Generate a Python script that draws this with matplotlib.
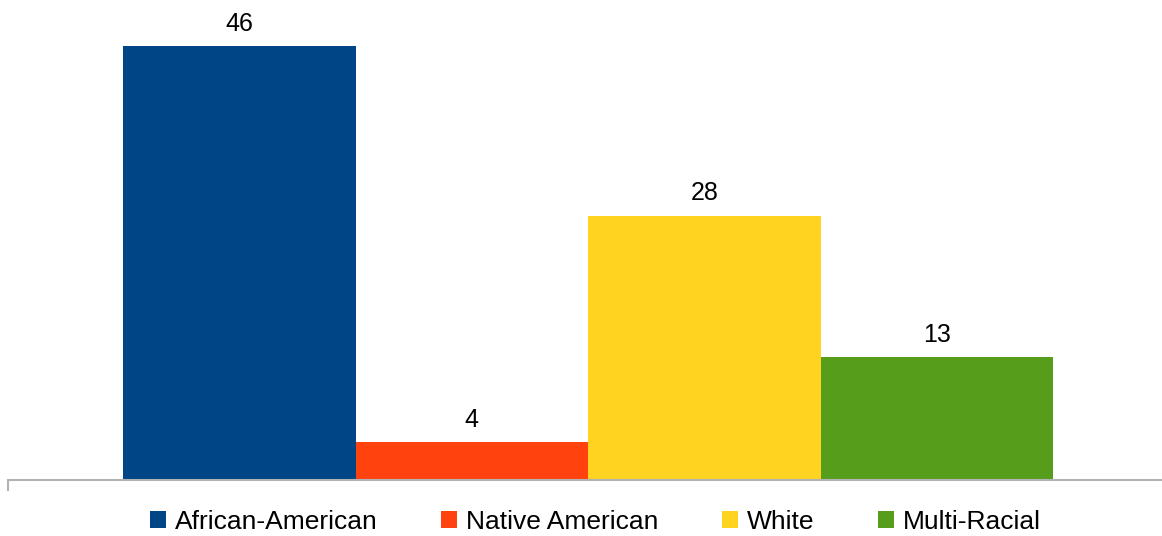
import matplotlib
matplotlib.use("Agg")
import matplotlib.pyplot as plt
from matplotlib.patches import Patch

categories = ["African-American", "Native American", "White", "Multi-Racial"]
values = [46, 4, 28, 13]
colors = ["#004586", "#ff420e", "#ffd320", "#579d1c"]

plt.rcParams['font.family'] = ['Liberation Sans', 'DejaVu Sans']

W, H = 1162, 536
fig = plt.figure(figsize=(W / 100, H / 100), dpi=100)
ax = fig.add_axes([8 / W, (H - 480) / H, (W - 8) / W, (480 - 8) / H])

x = list(range(len(categories)))
bars = ax.bar(x, values, width=1.0, color=colors, align='center')
for xi, v in zip(x, values):
    ax.annotate(str(v), (xi, v), xytext=(0, 16), textcoords='offset points',
                ha='center', va='center', fontsize=18, color='black')

left = -0.5 - 115 / 232.5
right = 3.5 + 109 / 232.5
ax.set_xlim(left, right)
ax.set_ylim(0, 50)

for s in ['top', 'right', 'left']:
    ax.spines[s].set_visible(False)
ax.spines['bottom'].set_color('#b3b3b3')
ax.spines['bottom'].set_linewidth(1.5)
ax.set_yticks([])
ax.set_xticks([left])
ax.set_xticklabels([''])
ax.tick_params(axis='x', length=8, width=1.5, color='#b3b3b3', direction='out')

handles = [Patch(facecolor=c, edgecolor='none') for c in colors]
fig.legend(handles, categories, loc='center', bbox_to_anchor=(595.5 / W, (H - 522) / H),
           ncol=4, frameon=False, fontsize=19, handlelength=0.6, handleheight=0.6,
           handletextpad=0.34, columnspacing=2.42, borderpad=0.0)

fig.savefig("out.png", dpi=100)
